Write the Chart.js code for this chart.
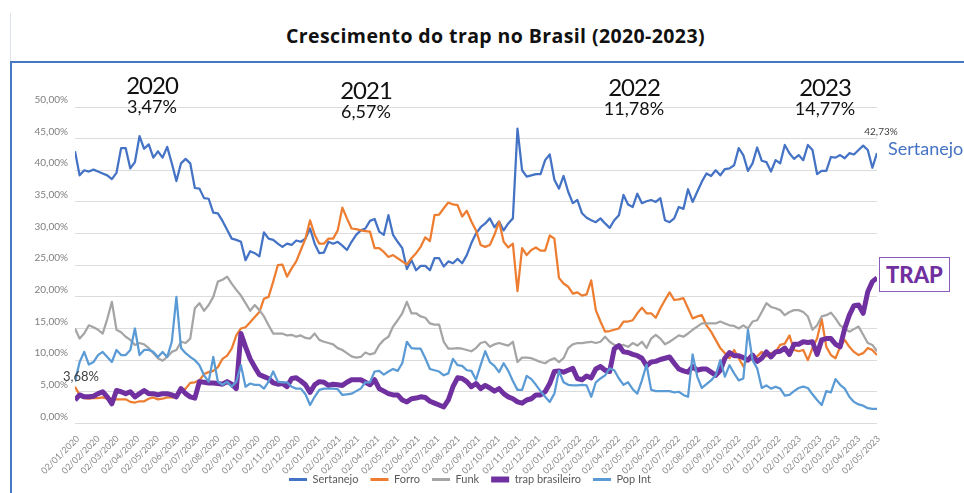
<!DOCTYPE html>
<html lang="pt-BR">
<head>
<meta charset="utf-8">
<title>Crescimento do trap no Brasil (2020-2023)</title>
<script src="https://cdn.jsdelivr.net/npm/chart.js@4.4.1/dist/chart.umd.min.js"></script>
<style>
  html, body { margin: 0; padding: 0; background: #fff; }
  body { width: 964px; height: 493px; position: relative; overflow: hidden; font-family: Lato, 'Open Sans', sans-serif; }
  #wrap { position: absolute; left: 0; top: 0; width: 964px; height: 493px; }
  .title { position: absolute; left: 0; width: 991px; top: 22px; line-height: 24px; text-align: center;
           font: 700 19.5px 'Open Sans', sans-serif; letter-spacing: 0.4px; color: #111; white-space: nowrap; }
  .rule { position: absolute; left: 10px; top: 13px; width: 1px; height: 48px; background: #dce2ea; }
  .frame-top { position: absolute; left: 10px; top: 61px; width: 954px; height: 2px; background: #4677c4; }
  .frame-left { position: absolute; left: 10px; top: 61px; width: 2px; height: 432px; background: #4677c4; }
  .year { position: absolute; transform: translateX(-50%); text-align: center; color: #111; line-height: 1; white-space: nowrap; }
  .year b { display: block; font-weight: 400; font-size: 24px; height: 24px; letter-spacing: -1px; }
  .year span { display: block; font-size: 18px; }
  .side { position: absolute; left: 888px; top: 139px; font-size: 18px; line-height: 1; color: #4472C4; }
  .trap { position: absolute; left: 879px; top: 257px; width: 69px; height: 33px; border: 1.5px solid #8a5bbd;
          background: #fff; color: #7030A0; font: 900 22px Lato, sans-serif; line-height: 33px; text-align: center; }
</style>
</head>
<body>
<div class="title">Crescimento do trap no Brasil (2020-2023)</div>
<div class="rule"></div>
<div class="frame-top"></div>
<div class="frame-left"></div>
<div id="wrap"><canvas id="chart" width="964" height="493"></canvas></div>
<div class="year" style="left:152px;top:73px"><b>2020</b><span>3,47%</span></div>
<div class="year" style="left:366px;top:78px"><b>2021</b><span>6,57%</span></div>
<div class="year" style="left:634px;top:75px"><b>2022</b><span>11,78%</span></div>
<div class="year" style="left:825px;top:75px"><b>2023</b><span>14,77%</span></div>
<div class="side">Sertanejo</div>
<div class="trap">TRAP</div>
<script>
// weekly shares (%), first week 02/01/2020
const startDate = '02/01/2020';

const sertanejo = [
  43.0, 39.2, 40.0, 39.8, 40.1, 39.8, 39.5, 39.2, 38.6, 39.6, 43.5, 43.5, 40.3, 41.3, 45.4, 43.4, 44.1, 42.0, 43.0, 42.0,
  43.7, 41.1, 38.3, 41.1, 41.8, 41.1, 37.2, 37.1, 35.6, 35.5, 33.3, 33.2, 32.0, 30.6, 29.2, 29.0, 28.7, 25.8, 27.2, 26.9,
  26.4, 30.2, 29.2, 29.0, 28.4,
  27.9, 28.4, 28.2, 28.9, 28.7, 29.2, 30.8, 28.4, 26.9, 27.0, 28.7, 28.4, 28.7, 28.1, 27.4, 28.7, 29.8, 30.5, 30.8, 32.0,
  32.3, 30.3, 29.8, 32.9, 29.8, 28.7, 27.7, 24.4, 25.8, 24.2, 24.9, 24.9, 24.2, 26.1, 26.1, 24.8, 25.6, 25.3, 26.0, 25.3,
  26.6, 28.5, 30.0, 31.0,
  31.6, 32.4, 31.0, 31.9, 30.5, 31.6, 32.4, 46.6, 40.0, 39.0, 39.2, 39.4, 39.4, 41.6, 42.5, 38.5, 37.1, 39.1, 36.6, 34.8,
  35.3, 33.2, 32.5, 32.1, 31.8, 32.4, 31.6, 30.9, 32.1, 32.9, 36.1, 34.6, 34.2, 36.3, 34.8, 35.1, 35.3, 35.0, 35.6, 32.1,
  31.8, 32.4, 34.2,
  33.9, 37.0, 35.0, 36.6, 38.2, 39.5, 39.1, 40.0, 39.2, 40.2, 40.3, 40.8, 43.5, 42.4, 39.9, 41.1, 43.6, 41.5, 41.3, 39.8,
  41.6, 41.1, 44.0, 42.7, 41.8, 42.4, 41.6, 44.0, 43.2, 39.4, 39.9, 39.9, 42.1, 42.0, 42.4, 41.9, 42.7, 42.5, 43.2, 43.9,
  43.2, 40.4, 42.73
];

const forro = [
  5.8, 4.5, 4.0, 3.9, 4.0, 4.0, 4.1, 3.9, 3.9, 3.8, 3.8, 3.8, 3.4, 3.3, 3.5, 3.5, 3.9, 4.1, 3.8, 3.9,
  4.1, 4.1, 4.1, 5.2, 5.5, 6.4, 6.5, 6.8, 7.8, 8.1, 8.3, 8.9, 10.2, 10.7, 11.8, 13.9, 15.0, 15.2, 16.0, 16.8,
  17.6, 19.7, 20.0, 22.4, 25.0,
  25.1, 23.2, 24.5, 25.6, 27.4, 29.2, 32.1, 29.8, 28.4, 28.4, 29.2, 29.2, 30.5, 34.1, 32.4, 30.8, 30.7, 30.5, 30.4, 30.3,
  27.7, 27.7, 27.1, 26.3, 26.6, 26.1, 25.6, 25.1, 26.1, 26.9, 27.9, 29.4, 28.8, 32.9, 33.0, 34.0, 34.9, 34.6, 34.5, 32.7,
  33.6, 31.9, 30.5,
  28.2, 27.9, 28.2, 29.8, 31.9, 28.7, 27.8, 28.4, 20.9, 27.7, 26.6, 27.4, 27.8, 27.3, 27.3, 29.7, 29.2, 23.0, 22.1, 21.6,
  20.5, 20.7, 20.2, 20.4, 22.6, 17.9, 16.1, 14.5, 14.6, 14.8, 15.0, 16.1, 16.1, 16.3, 17.4, 18.3, 17.4, 17.4, 16.7, 18.2,
  19.5, 20.7, 19.5, 19.6,
  19.8, 18.2, 16.6, 16.9, 17.1, 15.5, 14.5, 13.2, 11.9, 11.1, 10.3, 11.6, 10.3, 9.0, 10.3, 10.0, 10.6, 11.3, 10.6, 11.1,
  11.3, 12.4, 12.6, 13.9, 11.6, 11.4, 11.6, 10.0, 11.9, 13.4, 16.5, 12.1, 10.8, 10.3, 12.1, 13.2, 12.1, 11.3, 10.8, 11.1,
  11.9, 11.6, 10.8
];

const funk = [
  15.0, 13.4, 14.2, 15.5, 15.2, 14.8, 14.2, 16.5, 19.2, 14.8, 14.4, 13.7, 13.2, 12.4, 12.7, 12.5, 11.9, 11.1, 10.3, 9.9,
  10.5, 11.3, 11.6, 12.9, 12.7, 13.4, 18.2, 19.0, 17.8, 18.7, 20.0, 22.4, 22.7, 23.2, 22.1, 21.1, 20.2, 19.0, 17.8, 18.7,
  17.9, 16.9, 15.5, 14.2, 14.2,
  14.2, 13.9, 14.0, 13.7, 13.9, 13.5, 13.4, 14.2, 13.2, 12.9, 12.7, 12.5, 11.9, 11.6, 11.1, 10.6, 10.4, 10.5, 11.2, 10.9,
  11.1, 12.4, 13.2, 13.7, 15.3, 16.3, 17.4, 19.2, 17.4, 17.4, 16.9, 16.7, 15.8, 15.6, 15.6, 12.9, 11.8, 11.8, 11.9, 11.8,
  11.6, 11.4, 11.9,
  12.7, 12.9, 12.1, 12.5, 12.7, 12.5, 12.3, 12.9, 9.7, 10.4, 10.4, 10.3, 10.0, 9.7, 9.5, 10.0, 10.3, 9.7, 10.3, 11.9,
  12.5, 12.7, 12.7, 12.8, 12.9, 12.7, 12.9, 13.7, 12.9, 12.4, 12.3, 12.4, 12.1, 12.7, 12.3, 12.9, 11.9, 13.4, 14.0, 13.4,
  12.5, 12.9, 13.4, 13.9,
  13.7, 14.2, 14.8, 15.3, 15.8, 15.8, 15.8, 15.8, 16.1, 15.8, 15.5, 15.4, 15.0, 15.5, 15.0, 16.1, 16.3, 17.6, 19.0, 18.4,
  18.2, 17.9, 17.1, 17.6, 17.9, 17.9, 17.6, 16.9, 14.8, 15.5, 16.9, 17.1, 17.5, 16.6, 15.5, 15.0, 14.5, 14.9, 15.3, 14.0,
  12.7, 12.4, 11.4
];

const trapBrasileiro = [
  3.68, 4.5, 4.2, 4.2, 4.3, 4.7, 5.0, 4.2, 3.1, 5.2, 5.0, 4.7, 5.0, 4.2, 4.7, 5.2, 4.7, 4.7, 4.5, 4.7,
  4.7, 4.5, 4.2, 5.5, 4.7, 4.2, 4.0, 6.6, 6.5, 6.4, 6.4, 6.3, 6.2, 6.6, 6.2, 5.5, 14.2, 12.1, 10.2, 8.9,
  7.7, 7.4, 7.1, 6.4, 6.2,
  6.3, 5.8, 7.1, 7.2, 6.7, 6.1, 4.9, 6.1, 6.6, 6.5, 6.0, 6.2, 6.1, 6.0, 6.5, 6.9, 6.9, 6.9, 6.5, 6.1,
  6.9, 5.5, 5.1, 4.7, 4.5, 4.5, 3.7, 3.4, 3.9, 4.0, 4.2, 4.1, 3.5, 3.2, 2.9, 2.6, 3.7, 5.8, 7.2, 7.1,
  6.6, 5.8, 6.3,
  5.5, 6.0, 5.6, 5.1, 5.5, 4.7, 4.2, 3.9, 3.4, 3.2, 3.7, 3.9, 4.5, 4.5, 5.0, 6.3, 8.2, 8.3, 8.1, 8.4,
  8.7, 7.1, 6.9, 7.5, 7.2, 8.6, 9.0, 8.4, 8.2, 11.8, 12.3, 11.3, 11.2, 10.9, 10.7, 10.3, 9.1, 9.7, 9.8, 10.1,
  10.3, 10.5, 9.5, 8.6,
  8.3, 8.1, 9.0, 8.4, 8.6, 8.6, 8.1, 7.6, 8.4, 10.3, 11.2, 10.7, 10.7, 10.4, 10.0, 10.8, 9.8, 10.3, 11.3, 10.5,
  11.3, 11.4, 11.9, 10.9, 12.5, 12.5, 12.9, 12.8, 12.9, 10.9, 13.2, 13.4, 13.4, 12.5, 12.1, 15.0, 17.1, 18.6, 18.7, 17.4,
  20.8, 22.4, 23.0
];

const popInt = [
  6.6, 9.7, 11.3, 9.3, 9.7, 10.8, 11.3, 10.5, 9.7, 11.6, 10.8, 10.8, 11.6, 15.0, 10.8, 11.6, 11.6, 11.3, 10.5, 11.3,
  10.5, 12.9, 20.0, 11.9, 11.1, 10.5, 10.0, 9.2, 7.6, 6.6, 10.5, 6.6, 6.1, 6.6, 5.8, 6.6, 9.2, 5.8, 6.3, 6.1,
  6.1, 5.5, 6.6, 8.2, 6.6,
  6.5, 6.5, 5.8, 5.5, 5.5, 4.6, 2.9, 4.2, 5.3, 5.5, 5.5, 5.5, 5.4, 4.5, 4.6, 4.7, 5.1, 5.5, 6.5, 6.5,
  8.2, 8.3, 7.7, 8.2, 8.6, 8.3, 9.5, 12.9, 11.9, 11.8, 11.8, 10.3, 8.6, 8.4, 8.2, 7.6, 7.9, 10.2, 9.2, 9.1,
  8.4, 8.3, 6.9,
  9.2, 11.4, 9.7, 9.1, 8.1, 9.5, 8.3, 6.7, 5.3, 5.3, 7.5, 7.0, 6.1, 5.1, 4.2, 3.4, 4.7, 8.3, 6.5, 6.1,
  6.0, 6.0, 6.1, 6.0, 4.2, 6.5, 7.1, 7.6, 8.7, 8.4, 7.1, 6.1, 6.5, 5.4, 4.7, 6.8, 9.3, 5.3, 5.1, 5.1,
  5.1, 5.1, 4.9, 5.0,
  4.5, 4.2, 10.9, 7.4, 5.6, 6.2, 6.8, 7.6, 10.0, 7.4, 9.2, 7.9, 6.8, 7.1, 14.8, 10.0, 8.7, 5.6, 6.0, 5.5,
  5.8, 5.5, 4.4, 4.5, 5.1, 5.6, 5.8, 5.6, 4.6, 3.7, 2.9, 5.1, 4.9, 7.0, 6.1, 5.5, 4.2, 3.4, 3.0, 2.8,
  2.4, 2.3, 2.3
];

const tickLabels = [
  '02/01/2020', '02/02/2020', '02/03/2020', '02/04/2020', '02/05/2020', '02/06/2020', '02/07/2020', '02/08/2020',
  '02/09/2020', '02/10/2020', '02/11/2020', '02/12/2020', '02/01/2021', '02/02/2021', '02/03/2021', '02/04/2021',
  '02/05/2021', '02/06/2021', '02/07/2021', '02/08/2021', '02/09/2021', '02/10/2021', '02/11/2021', '02/12/2021',
  '02/01/2022', '02/02/2022', '02/03/2022', '02/04/2022', '02/05/2022', '02/06/2022', '02/07/2022', '02/08/2022',
  '02/09/2022', '02/10/2022', '02/11/2022', '02/12/2022', '02/01/2023', '02/02/2023', '02/03/2023', '02/04/2023',
  '02/05/2023'
];

const yTicks = [0, 5, 10, 15, 20, 25, 30, 35, 40, 45, 50];

const seriesNames = ['Sertanejo', 'Forro', 'Funk', 'trap brasileiro', 'Pop Int'];
const seriesColors = ['#4472C4', '#ED7D31', '#A5A5A5', '#7030A0', '#5B9BD5'];

const toDays = s => {
  const [d, m, y] = s.split('/').map(Number);
  return Date.UTC(y, m - 1, d) / 86400000;
};
const day0 = toDays(startDate);
const weekly = arr => arr.map((v, i) => ({ x: i * 7, y: v }));
const pct = v => v.toFixed(2).replace('.', ',') + '%';

// data labels on first trap point and last sertanejo point
const valueLabels = {
  id: 'valueLabels',
  afterDatasetsDraw(chart) {
    const { ctx } = chart;
    ctx.save();
    ctx.fillStyle = '#404040';
    ctx.textAlign = 'center';
    ctx.textBaseline = 'middle';
    const s = chart.getDatasetMeta(0).data;
    const last = s[s.length - 1];
    ctx.font = '10px Lato';
    ctx.fillText(pct(sertanejo[sertanejo.length - 1]), last.x + 4, last.y - 21);
    const first = chart.getDatasetMeta(3).data[0];
    ctx.font = '13px Lato';
    ctx.fillText(pct(trapBrasileiro[0]), first.x + 6, first.y - 23);
    ctx.restore();
  }
};

// legend sits a bit right of the canvas centre in the original
const legendShift = {
  id: 'legendShift',
  afterLayout(chart) {
    chart.legend.left += 19;
    chart.legend.right += 19;
  }
};

const allSeries = [sertanejo, forro, funk, trapBrasileiro, popInt];

new Chart(document.getElementById('chart'), {
  type: 'line',
  data: {
    datasets: allSeries.map((arr, i) => ({
      label: seriesNames[i],
      data: weekly(arr),
      borderColor: seriesColors[i],
      backgroundColor: seriesColors[i],
      borderWidth: i === 3 ? 5 : 2.25,
      pointRadius: 0,
      tension: 0,
      borderJoinStyle: 'round',
      order: 5 - i,
    })),
  },
  options: {
    responsive: false,
    animation: false,
    layout: { padding: { top: 107, right: 87, bottom: -2, left: 25 } },
    scales: {
      x: {
        type: 'linear',
        min: 0,
        max: (sertanejo.length - 1) * 7,
        afterBuildTicks: sc => { sc.ticks = tickLabels.map(l => ({ value: toDays(l) - day0 })); },
        afterFit: sc => {
          sc.height = 38.6;
          sc._computeLabelArea = () => null; // let the slanted dates run past the axis box
        },
        grid: { display: false },
        border: { display: false },
        ticks: {
          autoSkip: false,
          minRotation: 45,
          maxRotation: 45,
          padding: 2,
          labelOffset: 3,
          color: '#8a8a8a',
          font: { family: 'Lato', size: 9 },
          callback: (v, i) => tickLabels[i],
        },
      },
      y: {
        min: 0,
        max: 50,
        afterBuildTicks: sc => { sc.ticks = yTicks.map(v => ({ value: v })); },
        afterFit: sc => { sc.width = 50; },
        grid: { color: '#dcdcdc', drawTicks: false },
        border: { display: false },
        ticks: {
          padding: 7,
          labelOffset: -7,
          color: '#7f7f7f',
          font: { family: 'Lato', size: 10 },
          callback: v => pct(v),
        },
      },
    },
    plugins: {
      tooltip: { enabled: false },
      legend: {
        position: 'bottom',
        labels: {
          usePointStyle: true,
          pointStyle: 'line',
          pointStyleWidth: 18,
          boxWidth: 18,
          padding: 12,
          color: '#595959',
          font: { family: 'Lato', size: 11 },
          sort: (a, b) => a.datasetIndex - b.datasetIndex,
          generateLabels: chart => Chart.defaults.plugins.legend.labels.generateLabels(chart)
            .map(l => ({ ...l, lineWidth: l.datasetIndex === 3 ? 6 : 3 })),
        },
      },
    },
  },
  plugins: [valueLabels, legendShift],
});
</script>
</body>
</html>
